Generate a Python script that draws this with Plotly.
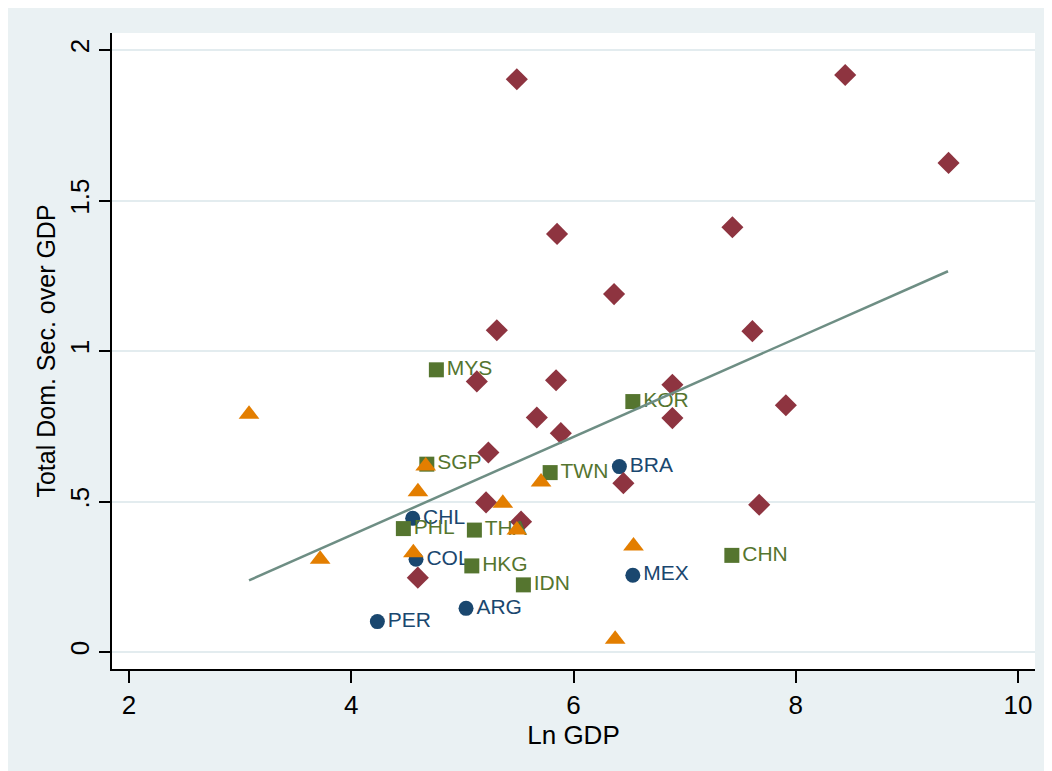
"""Stata-style scatter: domestic securities over GDP vs ln GDP."""

import plotly.graph_objects as go

# Latin America (navy circles, labelled)
LA_CODE = ["BRA", "CHL", "COL", "MEX", "ARG", "PER"]
LA_X = [6.413, 4.553, 4.583, 6.534, 5.033, 4.235]
LA_Y = [0.616, 0.444, 0.308, 0.255, 0.145, 0.101]

# industrial countries (maroon diamonds)
IND_X = [5.49, 8.445, 9.375, 5.852, 7.43, 6.365, 5.31, 7.61, 5.13, 5.843, 6.89,
         5.67, 6.89, 7.911, 5.886, 5.234, 5.213, 6.449, 7.671, 5.528, 4.599]
IND_Y = [1.903, 1.917, 1.625, 1.389, 1.411, 1.189, 1.069, 1.066, 0.899, 0.903, 0.888,
         0.779, 0.777, 0.820, 0.727, 0.663, 0.497, 0.561, 0.489, 0.433, 0.247]

# East Asia (green squares, labelled)
EA_CODE = ["MYS", "KOR", "SGP", "TWN", "PHL", "THA", "HKG", "IDN", "CHN"]
EA_X = [4.766, 6.534, 4.68, 5.79, 4.469, 5.108, 5.085, 5.549, 7.425]
EA_Y = [0.9375, 0.832, 0.624, 0.596, 0.41, 0.405, 0.286, 0.223, 0.321]

# other emerging (orange triangles)
OTH_X = [3.08, 3.72, 4.67, 4.60, 5.364, 5.708, 5.49, 4.559, 6.54, 6.375]
OTH_Y = [0.79, 0.308, 0.618, 0.532, 0.494, 0.565, 0.405, 0.330, 0.352, 0.042]

# fitted line
FIT_X = [3.08, 4.0, 5.0, 6.0, 7.0, 8.0, 9.37]
FIT_Y = [0.238, 0.388, 0.552, 0.715, 0.878, 1.041, 1.265]

Y_TICKS = [0, 0.5, 1, 1.5, 2]
Y_TICKTEXT = ["0", ".5", "1", "1.5", "2"]
X_TICKS = [2, 4, 6, 8, 10]

NAVY = "#1A476F"
MAROON = "#8E3440"
GREEN = "#55752F"
ORANGE = "#E37E00"
TEAL = "#6E8E84"
BG = "#EAF1F3"
FONT = "Liberation Sans, Arial, sans-serif"

fig = go.Figure()
fig.add_trace(go.Scatter(
    x=LA_X, y=LA_Y, text=LA_CODE, mode="markers+text", textposition="middle right",
    marker=dict(symbol="circle", size=15, color=NAVY),
    textfont=dict(color=NAVY, size=21, family=FONT),
))
fig.add_trace(go.Scatter(
    x=IND_X, y=IND_Y, mode="markers",
    marker=dict(symbol="diamond", size=17, color=MAROON),
))
fig.add_trace(go.Scatter(
    x=EA_X, y=EA_Y, text=EA_CODE, mode="markers+text", textposition="middle right",
    marker=dict(symbol="square", size=15, color=GREEN),
    textfont=dict(color=GREEN, size=21, family=FONT),
))
fig.add_trace(go.Scatter(
    x=OTH_X, y=OTH_Y, mode="markers",
    marker=dict(symbol="triangle-up", size=18, color=ORANGE),
))
fig.add_trace(go.Scatter(
    x=FIT_X, y=FIT_Y, mode="lines", line=dict(color=TEAL, width=2.5),
))

fig.update_layout(
    width=1052, height=771,
    margin=dict(l=104, r=25, t=25, b=110),
    paper_bgcolor=BG, plot_bgcolor="white",
    showlegend=False,
    font=dict(family=FONT, color="black", size=26),
)
fig.update_xaxes(
    range=[1.847, 10.153], tickvals=X_TICKS, showgrid=False, zeroline=False,
    showline=True, linecolor="black", linewidth=2,
    ticks="outside", ticklen=12, tickwidth=2, tickcolor="black",
    tickfont=dict(size=26), ticklabelstandoff=0,
    title=dict(text="Ln GDP", font=dict(size=26), standoff=3),
)
fig.update_yaxes(
    range=[-0.0565, 2.0565], tickvals=Y_TICKS, ticktext=Y_TICKTEXT, tickangle=-90,
    showgrid=True, gridcolor="#E3ECEF", gridwidth=2, zeroline=False,
    showline=True, linecolor="black", linewidth=2,
    ticks="outside", ticklen=11, tickwidth=2, tickcolor="black",
    tickfont=dict(size=26), ticklabelstandoff=0,
    title=dict(text="Total Dom. Sec. over GDP", font=dict(size=25), standoff=2),
)

fig.write_html("out.html")
